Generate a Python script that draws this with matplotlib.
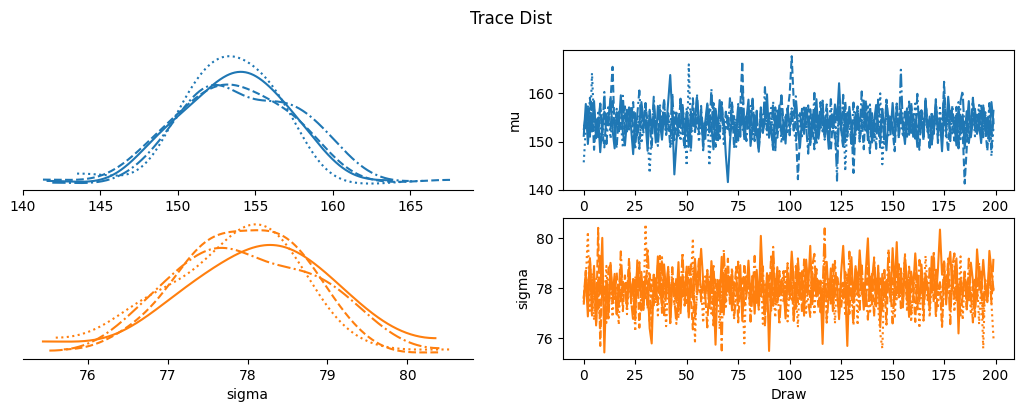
import numpy as np
import matplotlib
matplotlib.use("Agg")
from matplotlib import pyplot as plt

# posterior draws, 4 chains x 200 draws
mu_c0 = [151.2, 157.8, 149.5, 155.3, 152.1, 158.4, 150.7, 154.9, 147.8, 153.6, 156.2, 154.0, 154.8, 158.9, 152.4, 148.6, 155.7, 153.1, 159.6, 151.8,
         149.2, 154.5, 157.1, 152.8, 147.4, 155.9, 151.3, 153.7, 158.2, 154.6, 154.3, 148.1, 156.6, 152.2, 155.1, 149.8, 157.4, 153.9, 150.4, 155.8,
         152.6, 158.1, 163.8, 155.2, 143.2, 149.7, 155.4, 152.9, 157.6, 151.5, 154.2, 148.9, 156.3, 153.4, 154.1, 159.2, 152.7, 155.6, 149.4, 154.1,
         157.9, 151.9, 153.3, 148.4, 156.8, 152.3, 158.6, 154.9, 154.6, 147.2, 141.6, 149.9, 155.2, 153.8, 151.1, 157.3, 152.5, 156.1, 150.5, 154.7,
         158.7, 149.1, 153.2, 155.5, 151.7, 147.9, 156.4, 152.0, 154.4, 159.8, 150.8, 153.5, 148.3, 155.9, 152.6, 157.5, 151.4, 154.0, 149.6, 156.9,
         153.0, 154.8, 155.8, 158.3, 152.2, 148.8, 154.5, 151.6, 157.0, 153.7, 149.3, 155.1, 152.4, 158.8, 150.6, 154.2, 156.5, 151.0, 153.9, 148.5,
         155.3, 152.8, 157.7, 154.4, 162.1, 153.6, 149.0, 155.0, 151.8, 157.2, 153.1, 148.7, 156.0, 152.5, 154.8, 155.3, 158.5, 153.3, 151.2, 155.7,
         149.8, 154.1, 157.6, 152.0, 150.7, 156.2, 153.5, 148.2, 155.4, 151.5, 158.0, 152.9, 154.6, 154.2, 156.7, 153.0, 149.5, 155.9, 152.3, 157.4,
         151.0, 154.3, 148.9, 156.1, 153.8, 150.8, 158.9, 152.1, 155.2, 149.4, 153.6, 157.8, 151.3, 154.7, 148.0, 156.3, 152.7, 159.3, 154.5, 154.9,
         153.4, 149.2, 157.1, 151.9, 155.6, 148.6, 153.2, 158.4, 150.9, 154.4, 156.8, 151.6, 153.7, 149.7, 157.5, 152.2, 155.0, 150.1, 158.2, 153.8]
mu_c1 = [153.5, 152.9, 156.9, 151.0, 158.4, 148.3, 154.6, 150.5, 157.8, 152.3, 148.8, 155.7, 153.4, 158.6, 165.5, 151.6, 148.7, 156.2, 153.0, 153.1,
         157.3, 152.6, 152.6, 155.0, 158.2, 150.7, 153.8, 148.5, 156.5, 151.9, 157.9, 153.8, 154.1, 148.6, 157.6, 152.4, 150.0, 155.9, 152.4, 158.7,
         151.4, 154.7, 148.9, 157.0, 150.3, 155.4, 153.5, 158.2, 152.0, 148.5, 156.1, 153.2, 150.9, 159.0, 152.8, 155.3, 151.7, 157.4, 148.2, 153.9,
         153.2, 156.7, 152.8, 158.0, 148.9, 154.3, 150.6, 157.9, 152.1, 152.7, 155.6, 151.3, 158.4, 148.7, 153.6, 150.2, 157.2, 166.6, 151.1, 155.1,
         153.9, 153.3, 158.9, 150.1, 156.4, 148.2, 154.0, 151.8, 158.1, 152.3, 155.8, 152.5, 148.4, 157.1, 150.8, 154.9, 159.5, 154.0, 153.1, 156.3,
         159.8, 167.7, 158.0, 152.5, 142.2, 151.2, 156.8, 153.4, 153.6, 157.5, 150.4, 154.4, 148.4, 155.2, 152.2, 158.2, 152.1, 153.7, 157.7, 151.5,
         148.1, 154.8, 150.5, 146.0, 156.6, 152.7, 148.7, 158.3, 151.0, 155.5, 153.3, 143.5, 153.0, 157.3, 150.0, 154.5, 148.4, 158.6, 152.4, 147.6,
         155.9, 150.9, 157.0, 153.5, 148.8, 156.0, 151.1, 158.7, 154.1, 154.2, 152.3, 148.0, 157.9, 150.7, 155.0, 153.8, 152.6, 156.9, 151.4, 158.1,
         153.0, 154.6, 152.9, 148.3, 156.2, 150.3, 158.5, 153.2, 148.9, 155.7, 151.6, 157.6, 153.7, 154.3, 150.8, 162.4, 152.0, 147.9, 156.4, 153.6,
         150.2, 157.2, 148.6, 155.3, 152.5, 141.3, 148.6, 156.1, 151.9, 158.8, 153.0, 152.9, 155.8, 150.6, 157.4, 152.8, 148.1, 154.7, 151.3, 156.6]
mu_c2 = [145.7, 152.8, 157.3, 150.9, 164.2, 154.1, 151.6, 156.0, 153.3, 149.8, 155.4, 152.5, 157.6, 150.6, 154.7, 153.0, 156.8, 151.9, 154.3, 148.7,
         155.9, 152.1, 153.8, 157.1, 150.4, 154.6, 152.7, 155.5, 149.6, 153.5, 156.3, 151.2, 143.5, 152.3, 155.1, 153.9, 150.8, 157.8, 152.9, 154.4,
         151.5, 155.7, 153.1, 149.3, 156.5, 152.4, 154.9, 150.1, 157.2, 153.6, 145.0, 166.0, 151.8, 155.2, 152.0, 154.0, 149.9, 156.1, 153.2, 151.3,
         155.8, 145.0, 153.7, 157.5, 150.7, 154.5, 152.6, 156.4, 149.5, 153.4, 155.0, 151.7, 158.1, 152.2, 154.8, 150.3, 156.7, 153.0, 151.0, 155.3,
         152.4, 157.4, 150.5, 154.2, 153.5, 148.9, 156.2, 152.0, 155.6, 151.4, 153.9, 157.0, 150.0, 154.7, 152.8, 156.6, 149.7, 153.3, 155.2, 151.6,
         154.1, 156.9, 152.3, 150.2, 155.7, 153.6, 151.1, 157.3, 152.5, 154.4, 149.4, 156.0, 153.1, 151.9, 155.5, 152.7, 158.0, 150.4, 154.0, 153.0,
         156.4, 151.5, 154.8, 150.8, 155.9, 152.2, 157.1, 143.9, 153.8, 155.1, 151.2, 154.3, 152.6, 156.8, 150.6, 153.4, 155.4, 151.8, 157.7, 152.1,
         154.6, 150.0, 155.8, 153.2, 160.0, 145.3, 152.9, 156.3, 151.3, 154.9, 153.5, 149.8, 157.4, 152.4, 155.0, 150.9, 153.7, 156.5, 151.6, 154.2,
         152.8, 157.9, 150.3, 155.3, 153.3, 151.0, 156.1, 152.0, 154.5, 149.2, 155.6, 153.9, 151.4, 157.0, 152.5, 154.7, 150.7, 156.7, 153.1, 151.7,
         155.2, 152.2, 158.2, 150.5, 154.3, 153.6, 149.6, 156.2, 152.7, 155.8, 151.1, 154.1, 157.6, 150.2, 153.5, 155.5, 151.9, 156.9, 147.0, 153.0]
mu_c3 = [152.4, 155.8, 152.2, 159.1, 152.9, 156.7, 152.3, 153.1, 157.9, 151.4, 160.3, 149.5, 155.2, 152.6, 158.4, 152.7, 156.1, 152.1, 153.9, 159.5,
         151.7, 156.9, 152.5, 157.4, 152.9, 148.3, 155.5, 160.6, 152.8, 153.6, 158.0, 150.8, 156.3, 151.9, 159.3, 152.4, 149.1, 156.6, 153.3, 158.6,
         152.6, 155.9, 152.1, 160.0, 152.2, 156.0, 151.2, 158.9, 153.7, 149.7, 157.0, 152.5, 147.9, 156.8, 151.6, 159.8, 153.0, 155.7, 153.0, 150.4,
         157.6, 152.0, 160.9, 152.4, 156.4, 149.8, 154.4, 158.2, 151.5, 156.2, 152.6, 159.0, 152.7, 155.3, 148.9, 157.8, 151.0, 160.2, 153.5, 150.1,
         156.5, 152.3, 158.7, 152.2, 155.6, 149.3, 157.1, 152.8, 161.3, 152.9, 155.1, 151.8, 158.3, 148.0, 156.9, 152.6, 159.6, 150.4, 154.8, 157.3,
         151.3, 156.3, 152.3, 159.4, 152.2, 155.9, 152.7, 157.5, 153.2, 147.5, 156.7, 151.1, 160.1, 149.3, 155.4, 152.4, 158.5, 150.7, 156.1, 151.9,
         158.8, 152.5, 155.2, 141.9, 157.2, 152.0, 159.7, 149.9, 156.4, 153.4, 149.5, 158.1, 151.4, 155.8, 152.2, 160.4, 152.9, 156.6, 150.3, 157.7,
         151.6, 155.0, 148.5, 159.2, 152.3, 156.8, 149.5, 158.6, 152.8, 155.5, 153.1, 149.9, 157.3, 151.2, 164.9, 152.6, 156.2, 151.0, 158.3, 151.8,
         155.7, 150.6, 159.9, 152.1, 156.5, 152.4, 157.9, 153.8, 148.7, 156.0, 151.5, 158.8, 149.7, 155.3, 152.5, 160.0, 152.3, 156.7, 150.1, 157.5,
         152.0, 155.9, 149.2, 158.4, 160.5, 151.7, 156.3, 149.7, 153.2, 159.1, 152.6, 155.6, 152.8, 157.8, 150.9, 156.1, 151.0, 158.0, 148.6, 155.4]

sig_c0 = [77.62, 78.45, 76.88, 79.21, 77.35, 78.90, 76.52, 78.34, 77.80, 80.02, 75.44, 78.31, 77.06, 79.02, 77.71, 78.58, 76.96, 78.15, 77.48, 78.27,
          78.04, 77.26, 78.82, 77.59, 78.37, 76.73, 79.12, 77.92, 78.66, 77.14, 78.48, 78.22, 76.41, 75.80, 78.51, 77.67, 79.28, 78.09, 77.33, 78.96,
          77.85, 78.72, 76.62, 78.21, 78.18, 77.44, 79.05, 77.01, 78.55, 77.78, 78.87, 76.84, 78.40, 77.56, 79.18, 77.95, 78.38, 79.58, 78.29, 77.72,
          78.62, 77.21, 79.09, 78.01, 75.75, 78.34, 77.50, 79.26, 76.95, 78.79, 77.88, 78.46, 77.12, 78.25, 78.11, 77.40, 78.93, 76.70, 78.27, 77.83,
          79.11, 77.64, 78.50, 76.99, 78.74, 77.30, 80.10, 78.20, 77.06, 78.61, 75.50, 78.06, 79.22, 77.46, 78.85, 77.69, 78.36, 78.14, 76.80, 78.42,
          77.93, 79.47, 78.25, 77.18, 78.98, 77.58, 78.69, 76.91, 79.15, 78.03, 79.70, 77.37, 78.54, 77.76, 78.32, 78.10, 75.78, 78.38, 79.06, 77.52,
          78.80, 77.09, 78.43, 78.19, 76.77, 78.64, 79.70, 77.97, 75.70, 78.47, 79.25, 77.42, 78.89, 77.81, 79.52, 78.29, 77.15, 78.72, 80.00, 77.62,
          78.36, 79.10, 77.28, 78.91, 76.45, 78.58, 77.89, 78.34, 78.12, 77.55, 79.61, 78.02, 79.85, 77.70, 78.77, 77.24, 79.17, 78.33, 76.86, 78.67,
          77.99, 79.40, 78.23, 77.49, 78.95, 77.77, 78.59, 78.08, 77.11, 79.27, 78.44, 77.61, 78.73, 80.35, 78.55, 79.08, 77.36, 78.81, 79.46, 77.90,
          78.63, 79.20, 76.20, 78.41, 77.74, 78.37, 78.16, 77.53, 79.03, 78.30, 77.20, 79.56, 78.48, 77.86, 79.14, 78.06, 77.45, 79.50, 78.70, 77.95]
sig_c1 = [77.62, 78.71, 77.45, 79.14, 77.38, 78.46, 76.58, 80.42, 75.70, 78.38, 77.51, 78.29, 76.80, 78.52, 77.84, 77.57, 78.63, 77.26, 78.95, 77.09,
          78.52, 77.70, 79.21, 77.49, 78.37, 77.45, 78.84, 76.43, 78.16, 77.93, 78.48, 77.19, 78.58, 77.77, 77.32, 78.41, 77.34, 79.30, 77.02, 78.22,
          77.56, 78.79, 76.61, 78.33, 77.87, 78.42, 77.13, 78.49, 77.59, 78.05, 77.41, 78.92, 77.68, 76.36, 78.60, 77.98, 79.25, 77.63, 78.27, 77.60,
          78.74, 77.23, 78.40, 76.52, 78.35, 77.81, 78.13, 77.06, 78.67, 77.48, 79.19, 77.50, 78.35, 77.72, 78.86, 76.64, 78.09, 77.36, 78.98, 77.89,
          78.44, 77.37, 78.50, 77.53, 78.20, 77.15, 78.81, 77.96, 76.48, 78.55, 77.66, 79.28, 77.30, 78.38, 77.43, 78.70, 77.80, 78.03, 77.11, 78.53,
          77.58, 78.24, 76.70, 78.90, 77.44, 78.62, 77.03, 79.16, 77.75, 78.11, 77.57, 78.47, 77.91, 78.78, 77.21, 78.31, 76.85, 78.47, 77.64, 78.17,
          77.39, 78.96, 77.62, 78.53, 77.99, 77.18, 78.23, 77.70, 78.43, 76.98, 78.72, 77.50, 78.07, 77.74, 78.85, 77.86, 78.26, 77.29, 79.11, 77.55,
          78.58, 76.88, 78.36, 77.78, 78.40, 77.12, 78.19, 76.55, 78.76, 77.95, 78.41, 77.33, 79.18, 77.67, 78.04, 77.41, 78.64, 77.47, 78.87, 77.84,
          78.12, 76.66, 78.50, 77.57, 78.29, 77.25, 78.30, 77.90, 77.44, 78.69, 77.43, 78.82, 77.73, 78.15, 76.46, 78.57, 77.97, 79.20, 77.08, 78.39,
          77.61, 78.93, 77.38, 78.28, 77.83, 78.66, 77.16, 78.34, 77.52, 78.08, 76.87, 78.48, 77.94, 78.75, 77.27, 78.34, 77.49, 78.61, 77.79, 78.01]
sig_c2 = [77.45, 78.32, 80.26, 77.10, 78.61, 76.73, 78.05, 77.88, 76.40, 78.47, 77.63, 78.90, 77.22, 78.14, 76.86, 78.38, 77.95, 76.55, 78.70, 77.71,
          78.23, 76.97, 78.52, 77.40, 78.09, 76.28, 78.81, 77.84, 78.36, 77.17, 80.56, 77.92, 76.64, 78.44, 77.58, 78.18, 76.92, 78.66, 77.76, 78.01,
          76.49, 78.29, 77.68, 78.57, 77.31, 78.11, 76.80, 78.43, 77.99, 77.52, 78.75, 77.05, 78.20, 80.00, 75.80, 78.34, 77.79, 78.06, 76.62, 78.48,
          77.86, 78.21, 76.99, 78.62, 77.48, 78.00, 76.37, 78.53, 77.93, 77.26, 78.40, 77.70, 78.83, 76.76, 78.15, 77.60, 78.28, 77.83, 75.80, 78.58,
          77.96, 76.91, 78.35, 77.66, 78.12, 77.35, 78.67, 76.58, 78.25, 77.81, 78.49, 77.11, 78.03, 76.83, 78.41, 77.74, 78.19, 77.43, 78.79, 76.68,
          78.08, 77.55, 78.31, 77.89, 76.45, 78.55, 77.78, 78.17, 77.02, 78.46, 77.62, 78.85, 76.94, 78.27, 77.91, 78.04, 77.28, 79.55, 76.71, 78.37,
          77.73, 78.13, 76.60, 78.51, 77.97, 77.38, 78.22, 76.89, 78.64, 77.82, 78.06, 77.14, 78.39, 76.53, 79.20, 77.69, 78.30, 77.50, 78.72, 76.98,
          78.10, 77.87, 78.45, 77.24, 76.20, 75.60, 78.33, 77.76, 78.59, 77.45, 78.02, 76.79, 78.26, 77.64, 78.80, 77.93, 79.40, 77.08, 78.42, 76.66,
          78.16, 77.80, 78.61, 76.41, 78.07, 77.57, 79.30, 77.98, 76.85, 78.35, 77.71, 78.49, 77.20, 78.24, 76.50, 78.11, 77.86, 78.68, 77.33, 78.95,
          77.06, 78.30, 77.79, 79.28, 76.74, 78.21, 77.92, 78.53, 76.96, 78.04, 77.67, 78.44, 76.57, 78.18, 75.60, 78.36, 77.84, 78.58, 77.41, 76.00]
sig_c3 = [77.35, 78.64, 77.70, 79.12, 76.85, 78.52, 78.41, 77.18, 79.36, 77.57, 78.05, 76.62, 78.80, 78.93, 77.44, 78.27, 76.99, 77.66, 79.48, 77.83,
          78.18, 77.29, 78.76, 77.52, 76.70, 78.49, 77.74, 79.05, 77.12, 78.30, 77.61, 79.61, 77.88, 76.48, 78.55, 77.40, 78.92, 77.69, 79.25, 76.93,
          77.76, 78.86, 77.23, 78.85, 77.58, 76.58, 78.10, 77.84, 79.43, 77.31, 78.62, 77.06, 78.95, 78.71, 76.80, 77.64, 79.18, 77.47, 78.23, 77.72,
          76.44, 78.47, 77.89, 78.98, 77.15, 77.68, 78.33, 75.52, 79.54, 77.79, 78.68, 77.38, 78.79, 76.90, 77.55, 79.07, 77.96, 78.41, 77.26, 77.71,
          78.59, 76.67, 77.83, 79.30, 77.42, 78.16, 77.60, 78.88, 76.96, 77.77, 78.52, 77.11, 79.66, 77.65, 78.24, 76.55, 77.90, 78.69, 77.33, 79.01,
          77.75, 78.72, 76.78, 77.62, 79.20, 77.93, 78.45, 77.20, 78.83, 77.50, 76.86, 78.91, 79.38, 77.68, 78.27, 77.04, 77.86, 80.40, 76.63, 77.73,
          78.39, 77.45, 79.10, 77.79, 76.93, 78.20, 77.59, 78.66, 77.28, 79.47, 77.70, 76.52, 78.78, 78.57, 77.14, 78.92, 77.63, 77.87, 76.75, 78.48,
          77.36, 79.24, 77.82, 78.63, 76.88, 77.66, 78.74, 77.49, 79.57, 77.91, 76.60, 78.14, 77.56, 78.97, 77.21, 77.78, 79.33, 77.44, 78.30, 76.97,
          77.69, 78.61, 77.10, 79.14, 78.75, 76.71, 78.43, 77.53, 78.81, 77.74, 79.50, 76.83, 77.97, 78.25, 77.32, 79.05, 77.60, 78.50, 76.57, 78.88,
          79.40, 77.48, 78.06, 76.92, 77.71, 78.72, 77.25, 79.19, 77.81, 76.64, 78.35, 77.57, 79.02, 77.93, 76.81, 78.17, 77.67, 78.90, 77.40, 79.28]

var_names = ["mu", "sigma"]
chains = {"mu": [mu_c0, mu_c1, mu_c2, mu_c3],
          "sigma": [sig_c0, sig_c1, sig_c2, sig_c3]}
colors = ["C0", "C1"]
styles = ["solid", "dashed", "dotted", "dashdot"]


def kde(x, n=512):
    # gaussian kde on [min, max] with reflection at both bounds
    x = np.asarray(x, float)
    lo, hi = x.min(), x.max()
    grid = np.linspace(lo, hi, n)
    iqr = np.subtract(*np.percentile(x, [75, 25]))
    bw = 1.5 * min(x.std(ddof=1), iqr / 1.34) * len(x) ** -0.2
    pts = np.concatenate([x, 2 * lo - x, 2 * hi - x])
    d = np.exp(-0.5 * ((grid[:, None] - pts[None, :]) / bw) ** 2).sum(1)
    d /= len(x) * bw * np.sqrt(2 * np.pi)
    return grid, d


fig = plt.figure(figsize=(10.23, 4.12), dpi=100)
fig.suptitle("Trace Dist", y=0.975)

rows = [(0.539, 0.340), (0.129, 0.342)]
for i, var in enumerate(var_names):
    b, h = rows[i]
    ax_kde = fig.add_axes([0.022, b, 0.440, h])
    ax_tr = fig.add_axes([0.5506, b, 0.4406, h])
    for j, vals in enumerate(chains[var]):
        g, d = kde(vals)
        ax_kde.plot(g, d, color=colors[i], ls=styles[j], lw=1.5)
        ax_tr.plot(np.arange(len(vals)), vals, color=colors[i], ls=styles[j], lw=1.5)
    ax_kde.set_yticks([])
    for s in ["left", "top", "right"]:
        ax_kde.spines[s].set_visible(False)
    ax_tr.set_ylabel(var)
    ax_tr.set_xticks([0, 25, 50, 75, 100, 125, 150, 175, 200])
    if var == "sigma":
        ax_kde.set_xlabel("sigma")
        ax_tr.set_xlabel("Draw")

fig.savefig("out.png", dpi=100)
